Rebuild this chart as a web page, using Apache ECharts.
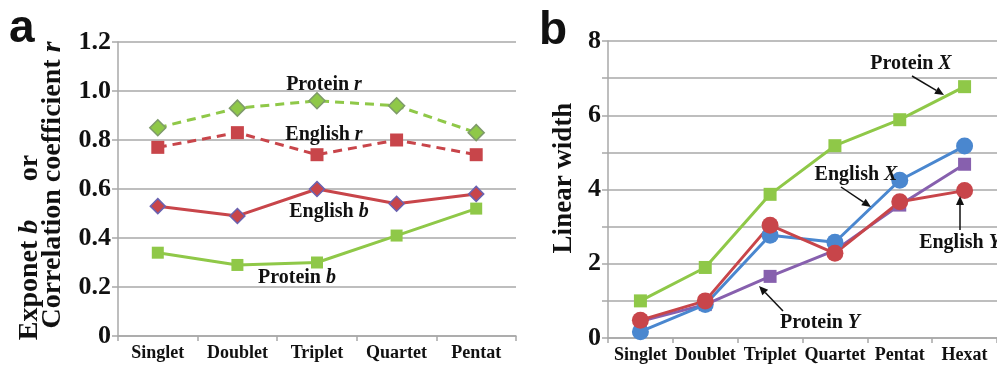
<!DOCTYPE html>
<html><head><meta charset="utf-8">
<script src="https://cdn.jsdelivr.net/npm/echarts@6/dist/echarts.min.js"></script>
<style>html,body{margin:0;padding:0;background:#fff}#c{width:997px;height:365px}</style>
</head><body><div id="c"></div>
<script>
// Panel a data
const catsA = ['Singlet','Doublet','Triplet','Quartet','Pentat'];
const proteinR = [0.85, 0.93, 0.96, 0.94, 0.83];
const englishR = [0.77, 0.83, 0.74, 0.80, 0.74];
const englishB = [0.53, 0.49, 0.60, 0.54, 0.58];
const proteinB = [0.34, 0.29, 0.30, 0.41, 0.52];
// Panel b data
const catsB = ['Singlet','Doublet','Triplet','Quartet','Pentat','Hexat'];
const proteinX = [1.0, 1.9, 3.87, 5.18, 5.88, 6.77];
const englishX = [0.17, 0.9, 2.77, 2.58, 4.25, 5.17];
const englishY = [0.48, 1.0, 3.04, 2.28, 3.67, 3.97];
const proteinY = [0.45, 0.9, 1.66, 2.36, 3.58, 4.68];

const GREEN = '#8FC848', RED = '#C8454A', BLUE = '#4A87CF', PURPLE = '#8760AE';
const SERIF = '"Liberation Serif","Times New Roman",serif';
const GRID = '#A8A8A8';

const chart = echarts.init(document.getElementById('c'), null, {renderer:'canvas'});

function catAxis(idx, data){
  return {type:'category', gridIndex:idx, data:data, boundaryGap:true,
    axisLine:{lineStyle:{color:GRID, width:1.5}},
    axisTick:{show:true, length:5, lineStyle:{color:GRID, width:1.5}},
    axisLabel:{color:'#111', fontFamily:SERIF, fontWeight:'bold', fontSize:18, margin:8, interval:0}};
}
function valAxis(idx, max, interval, fmt, fs){
  return {type:'value', gridIndex:idx, min:0, max:max, interval:interval,
    axisLine:{show:true, lineStyle:{color:GRID, width:1.5}},
    axisTick:{show:true, length:6, lineStyle:{color:GRID, width:1.5}},
    splitLine:{show:true, lineStyle:{color:GRID, width:1.5}},
    axisLabel:{color:'#111', fontFamily:SERIF, fontWeight:'bold', fontSize:fs, margin:7, formatter:fmt}};
}
function lineS(name, xi, data, color, dashed, symbol, size, border){
  return {name:name, type:'line', xAxisIndex:xi, yAxisIndex:xi, data:data,
    symbol:symbol, symbolSize:size, showSymbol:true,
    lineStyle:{color:color, width:3, type: dashed ? [9,6] : 'solid'},
    itemStyle:{color:color, borderColor:border||color, borderWidth: border?1.5:0},
    z:3, animation:false};
}

function rt(text, x, y, fs, rot){
  return {type:'text', x:x, y:y, rotation:rot||0,
    style:{text:text, fontFamily:SERIF, fontWeight:'bold', fontSize:fs, fill:'#111',
      align:'center', verticalAlign:'middle',
      rich:{b:{fontFamily:SERIF, fontWeight:'bold', fontSize:fs, fill:'#111'},
            i:{fontFamily:SERIF, fontWeight:'bold', fontStyle:'italic', fontSize:fs, fill:'#111'}}}, z:10};
}
function arrow(x1,y1,x2,y2){
  const ang = Math.atan2(y2-y1, x2-x1), L=9, W=4;
  const bx = x2 - L*Math.cos(ang), by = y2 - L*Math.sin(ang);
  const px = -Math.sin(ang)*W, py = Math.cos(ang)*W;
  return [
    {type:'line', shape:{x1:x1,y1:y1,x2:bx,y2:by}, style:{stroke:'#111', lineWidth:1.5}, z:10},
    {type:'polygon', shape:{points:[[x2,y2],[bx+px,by+py],[bx-px,by-py]]}, style:{fill:'#111'}, z:10}
  ];
}

const option = {
  backgroundColor:'#fff',
  animation:false,
  grid:[
    {left:118, top:42, width:398, height:294},
    {left:608, top:41, width:396, height:297}
  ],
  xAxis:[catAxis(0, catsA), catAxis(1, catsB)],
  yAxis:[
    valAxis(0, 1.2, 0.2, v => v===0 ? '0' : v.toFixed(1), 26),
    valAxis(1, 8, 1, v => (v % 2 === 0) ? String(v) : '', 26)
  ],
  series:[
    lineS('Protein b', 0, proteinB, GREEN, false, 'rect', 12),
    lineS('English b', 0, englishB, RED, false, 'diamond', 15, '#6A62B0'),
    lineS('English r', 0, englishR, RED, true, 'rect', 13),
    lineS('Protein r', 0, proteinR, GREEN, true, 'diamond', 16, '#7E9A6A'),
    lineS('Protein X', 1, proteinX, GREEN, false, 'rect', 13),
    lineS('Protein Y', 1, proteinY, PURPLE, false, 'rect', 13),
    lineS('English X', 1, englishX, BLUE, false, 'circle', 17),
    lineS('English Y', 1, englishY, RED, false, 'circle', 17)
  ],
  graphic:[
    {type:'text', x:9, y:6, style:{text:'a', fontFamily:'"Liberation Sans",Arial,sans-serif', fontWeight:'bold', fontSize:46, fill:'#111'}},
    {type:'text', x:539, y:8, style:{text:'b', fontFamily:'"Liberation Sans",Arial,sans-serif', fontWeight:'bold', fontSize:46, fill:'#111'}},
    rt('{b|Correlation coefficient }{i|r}', 53, 185, 28, Math.PI/2),
    rt('{b|Exponet }{i|b}', 30, 280, 28, Math.PI/2),
    rt('{b|or}', 30, 168, 28, Math.PI/2),
    rt('{b|Linear width}', 564, 178, 27, Math.PI/2),
    rt('{b|Protein }{i|r}', 324, 85, 20),
    rt('{b|English }{i|r}', 324, 135, 20),
    rt('{b|English }{i|b}', 329, 212, 20),
    rt('{b|Protein }{i|b}', 297, 278, 20),
    rt('{b|Protein }{i|X}', 911, 64, 20),
    rt('{b|English }{i|X}', 856, 175, 20),
    rt('{b|English }{i|Y}', 960, 243, 20),
    rt('{b|Protein }{i|Y}', 820, 323, 20),
    ...arrow(912, 76, 944, 95),
    ...arrow(841, 187, 871, 207),
    ...arrow(960, 230, 960, 196),
    ...arrow(783, 311, 759, 286)
  ]
};
chart.setOption(option);
</script>
</body></html>
